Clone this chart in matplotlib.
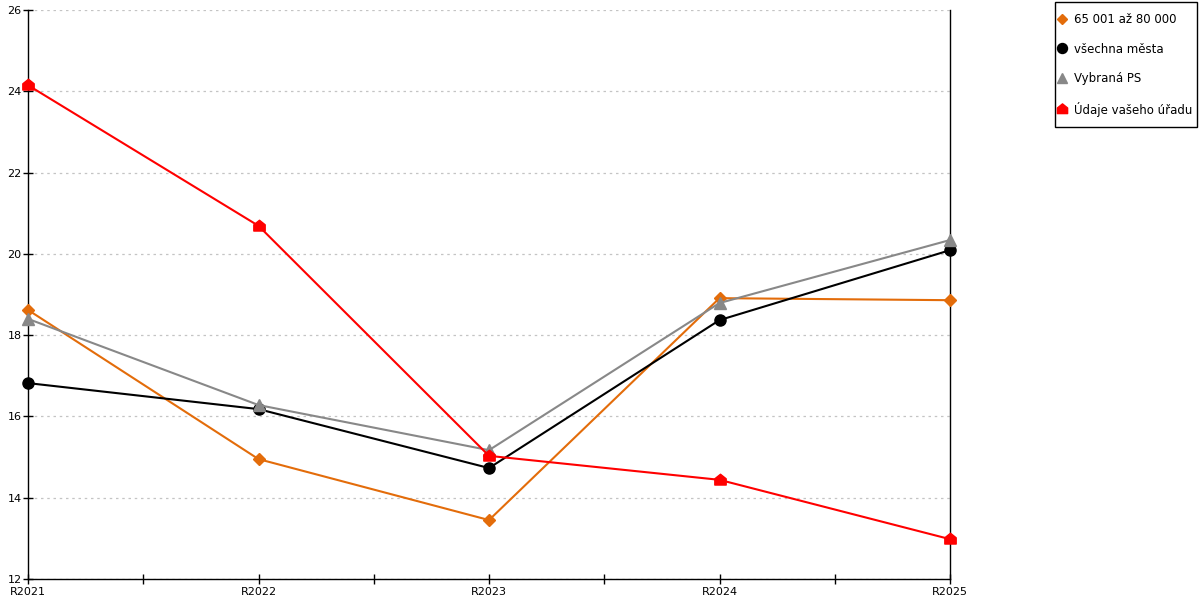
import matplotlib.pyplot as plt
from matplotlib.lines import Line2D
from matplotlib.patches import Rectangle
from matplotlib.path import Path
from matplotlib.ticker import MultipleLocator

years = ['R2021', 'R2022', 'R2023', 'R2024', 'R2025']
skupina = [18.62, 14.95, 13.45, 18.91, 18.86]
vsechna = [16.82, 16.18, 14.73, 18.37, 20.09]
vybrana = [18.40, 16.28, 15.17, 18.79, 20.34]
urad = [24.15, 20.69, 15.03, 14.44, 12.98]

# house-shaped marker for the office series
house = Path([(-1, -0.8), (1, -0.8), (1, 0.3), (0, 1.1), (-1, 0.3), (-1, -0.8)],
             [Path.MOVETO, Path.LINETO, Path.LINETO, Path.LINETO, Path.LINETO, Path.CLOSEPOLY])

series = [
    ('65 001 až 80 000', skupina, '#E36C0A', 'D', 6),
    ('všechna města', vsechna, 'black', 'o', 8),
    ('Vybraná PS', vybrana, '#888888', '^', 8),
    ('Údaje vašeho úřadu', urad, '#FF0000', house, 9),
]

fig = plt.figure(figsize=(12, 6), dpi=100)
ax = fig.add_axes([28 / 1200, 21 / 600, 922 / 1200, 569 / 600])

x = list(range(len(years)))
handles = []
for name, vals, col, mk, ms in series:
    ax.plot(x, vals, color=col, lw=1.5, marker=mk, ms=ms, mec=col, mfc=col,
            clip_on=False, zorder=3)
    handles.append(Line2D([], [], ls='none', marker=mk, color=col, ms=ms * 0.9))

ax.set_xlim(0, 4)
ax.set_ylim(12, 26)
ax.set_xticks(x)
ax.set_xticklabels(years)
ax.xaxis.set_minor_locator(MultipleLocator(0.5))
ax.yaxis.set_major_locator(MultipleLocator(2))
ax.tick_params(axis='both', which='both', direction='inout', length=7, width=1,
               labelsize=8, pad=1)
ax.tick_params(axis='x', pad=2)
ax.grid(axis='y', color='#c4c4c4', ls=(0, (2, 3)), lw=0.9)
ax.set_axisbelow(True)
ax.spines['top'].set_visible(False)
for s in ['left', 'bottom', 'right']:
    ax.spines[s].set_linewidth(1)

# legend box drawn separately so the padding matches
fig.patches.append(Rectangle((1055 / 1200, 1 - 127 / 600), 142 / 1200, 125 / 600,
                             transform=fig.transFigure, fill=False,
                             edgecolor='black', lw=1))
fig.legend(handles, [s[0] for s in series], loc='upper left',
           bbox_to_anchor=(1058.5 / 1200, 1 - 13 / 600), fontsize=8.5,
           frameon=False, handlelength=0.6, handletextpad=0.72,
           labelspacing=1.4, borderpad=0, borderaxespad=0)

fig.savefig('out.png', dpi=100)
